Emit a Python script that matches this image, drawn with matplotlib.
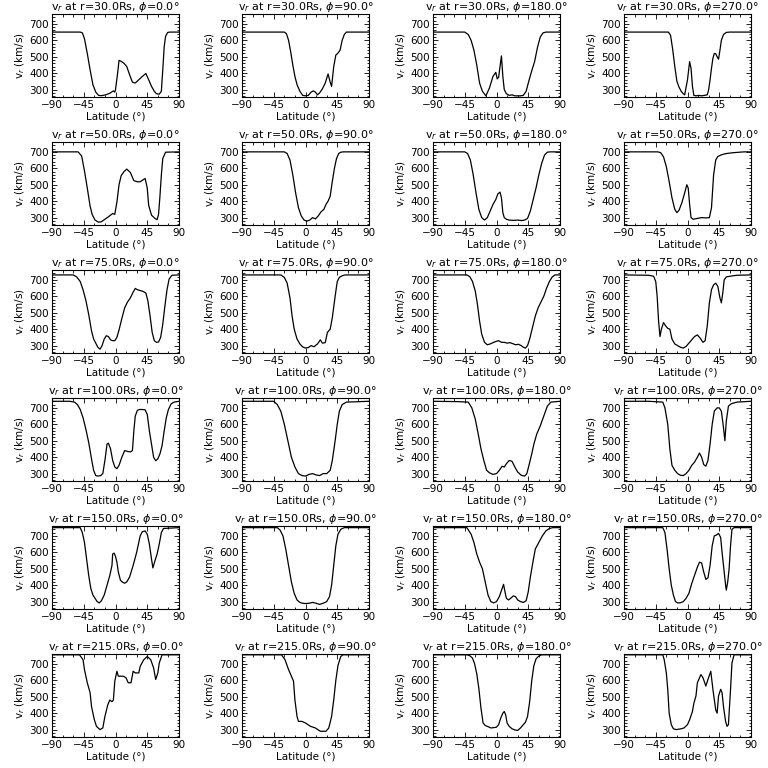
import matplotlib.pyplot as plt
from matplotlib.ticker import MultipleLocator

radii = [30.0, 50.0, 75.0, 100.0, 150.0, 215.0]
phis = [0.0, 90.0, 180.0, 270.0]

# r = 30 Rs
lat_30_0 = [-90, -50, -47, -44, -40, -36, -32, -28, -24, -20, -14, -8, -3, -1, 0, 3, 5, 8, 12, 16,
            20, 24, 28, 33, 38, 43, 47, 51, 55, 58, 62, 65, 67, 69, 71, 74, 77, 90]
v_30_0 = [650, 650, 645, 610, 520, 420, 330, 285, 265, 263, 268, 278, 292, 285, 300, 400, 478, 472, 460, 440,
          390, 345, 340, 360, 380, 398, 360, 320, 290, 275, 272, 290, 420, 560, 625, 648, 650, 650]
lat_30_90 = [-90, -30, -27, -24, -21, -18, -15, -12, -8, -4, 0, 4, 8, 11, 14, 17, 20, 24, 28, 32,
             35, 37, 40, 43, 46, 49, 52, 55, 58, 90]
v_30_90 = [650, 650, 640, 600, 530, 450, 380, 330, 290, 265, 262, 265, 285, 292, 285, 268, 280, 305, 340, 395,
           345, 320, 440, 510, 522, 540, 600, 635, 650, 650]
lat_30_180 = [-90, -45, -40, -36, -32, -28, -24, -20, -15, -10, -5, -1, 1, 3, 5, 7, 9, 11, 14, 18,
              22, 26, 30, 34, 38, 42, 46, 50, 54, 58, 62, 66, 70, 90]
v_30_180 = [650, 650, 635, 600, 540, 450, 340, 290, 262, 310, 380, 405, 365, 375, 440, 505, 380, 300, 275, 265,
            268, 262, 262, 262, 265, 290, 355, 415, 470, 555, 620, 645, 650, 650]
lat_30_270 = [-90, -27, -24, -21, -18, -15, -12, -9, -6, -4, 0, 3, 5, 7, 9, 12, 16, 20, 24, 28,
              30, 32, 34, 36, 38, 40, 42, 44, 46, 48, 51, 55, 60, 90]
v_30_270 = [650, 650, 630, 545, 440, 350, 315, 290, 275, 268, 360, 470, 430, 320, 265, 262, 265, 262, 265, 268,
            300, 360, 430, 490, 520, 518, 500, 485, 540, 600, 635, 648, 650, 650]

# r = 50 Rs
lat_50_0 = [-90, -53, -48, -44, -40, -36, -33, -29, -24, -20, -15, -10, -4, -1, 2, 5, 8, 12, 16, 21,
            26, 31, 35, 39, 42, 45, 47, 51, 56, 59, 61, 63, 65, 67, 71, 90]
v_50_0 = [700, 700, 675, 585, 480, 370, 318, 285, 272, 275, 290, 305, 325, 320, 395, 500, 555, 580, 595, 575,
          525, 518, 518, 530, 538, 480, 375, 315, 295, 287, 320, 430, 560, 660, 698, 700]
lat_50_90 = [-90, -30, -26, -22, -18, -14, -10, -6, -2, 2, 6, 10, 14, 18, 22, 26, 29, 32, 35, 38,
             41, 44, 47, 50, 54, 90]
v_50_90 = [700, 700, 690, 650, 560, 450, 360, 310, 285, 278, 285, 300, 292, 310, 335, 350, 380, 400, 430, 520,
           600, 660, 690, 698, 700, 700]
lat_50_180 = [-90, -45, -41, -37, -33, -29, -25, -21, -17, -13, -9, -5, -1, 2, 5, 7, 9, 11, 14, 18,
              24, 30, 36, 40, 44, 48, 52, 56, 60, 64, 68, 72, 76, 90]
v_50_180 = [700, 700, 690, 650, 560, 450, 350, 300, 285, 300, 340, 380, 410, 445, 455, 420, 330, 300, 290, 285,
            283, 285, 282, 285, 295, 340, 410, 480, 560, 630, 680, 698, 700, 700]
lat_50_270 = [-90, -42, -38, -34, -30, -26, -22, -18, -15, -12, -8, -4, -1, 1, 3, 5, 8, 14, 20, 26,
              31, 34, 37, 40, 43, 48, 55, 65, 80, 90]
v_50_270 = [700, 700, 695, 670, 610, 520, 420, 350, 330, 345, 390, 450, 500, 480, 380, 300, 290, 295, 300, 298,
            300, 360, 560, 650, 672, 682, 690, 695, 700, 700]

# r = 75 Rs
lat_75_0 = [-90, -60, -55, -50, -46, -42, -38, -34, -31, -28, -25, -22, -19, -16, -13, -10, -7, -4, -1, 2,
            5, 9, 13, 17, 21, 25, 28, 31, 35, 39, 43, 46, 49, 52, 55, 58, 61, 64, 67, 70,
            73, 76, 80, 90]
v_75_0 = [730, 730, 718, 690, 640, 575, 490, 390, 340, 315, 290, 278, 300, 340, 360, 355, 335, 330, 330, 350,
          395, 465, 530, 565, 590, 625, 648, 640, 635, 630, 620, 570, 480, 380, 330, 320, 322, 350, 430, 540,
          640, 705, 728, 730]
lat_75_90 = [-90, -35, -30, -26, -22, -19, -16, -12, -8, -4, 0, 4, 8, 12, 17, 21, 24, 28, 31, 35,
             38, 42, 45, 48, 52, 56, 90]
v_75_90 = [730, 730, 715, 680, 590, 480, 400, 340, 310, 292, 285, 288, 300, 293, 310, 335, 315, 318, 380, 400,
           470, 600, 690, 715, 725, 730, 730]
lat_75_180 = [-90, -42, -38, -34, -30, -27, -24, -21, -17, -13, -9, -5, -1, 3, 7, 11, 15, 19, 23, 27,
              31, 35, 38, 41, 44, 47, 51, 55, 59, 63, 67, 71, 75, 79, 83, 90]
v_75_180 = [730, 730, 720, 690, 630, 550, 450, 370, 320, 305, 310, 318, 325, 330, 320, 320, 315, 318, 312, 305,
            308, 300, 290, 285, 300, 340, 410, 480, 530, 565, 600, 650, 690, 718, 730, 730]
lat_75_270 = [-90, -55, -48, -45, -43, -41, -39, -37, -34, -31, -28, -25, -22, -18, -14, -10, -6, -2, 2, 6,
              10, 14, 18, 22, 25, 28, 31, 34, 37, 40, 43, 46, 48, 50, 52, 55, 60, 70, 90]
v_75_270 = [730, 728, 722, 690, 600, 450, 355, 400, 440, 420, 405, 400, 340, 310, 300, 290, 285, 295, 315, 335,
            355, 365, 345, 320, 330, 420, 560, 640, 670, 680, 660, 590, 560, 620, 700, 718, 722, 728, 730]

# r = 100 Rs
lat_100_0 = [-90, -65, -58, -54, -50, -46, -42, -38, -34, -31, -28, -25, -21, -18, -15, -12, -10, -7, -4, -1,
             2, 5, 9, 13, 17, 21, 24, 26, 28, 31, 34, 38, 42, 45, 48, 51, 54, 57, 60, 63,
             66, 69, 72, 75, 79, 83, 90]
v_100_0 = [740, 740, 735, 720, 690, 640, 570, 490, 390, 320, 288, 285, 288, 300, 380, 480, 485, 450, 380, 340,
           330, 350, 400, 440, 435, 432, 440, 560, 650, 685, 690, 690, 688, 660, 560, 480, 400, 378, 390, 420,
           470, 560, 640, 690, 725, 735, 740]
lat_100_90 = [-90, -45, -40, -35, -30, -25, -20, -15, -10, -5, 0, 5, 10, 15, 20, 25, 30, 35, 38, 42,
              45, 48, 52, 58, 90]
v_100_90 = [740, 740, 720, 680, 600, 500, 400, 340, 300, 288, 285, 295, 300, 292, 288, 300, 300, 320, 380, 500,
            600, 680, 720, 735, 740]
lat_100_180 = [-90, -55, -40, -35, -30, -25, -22, -18, -14, -10, -5, 0, 4, 8, 11, 14, 18, 22, 26, 30,
               35, 40, 43, 46, 50, 53, 57, 62, 67, 72, 77, 90]
v_100_180 = [740, 738, 735, 700, 630, 520, 450, 380, 320, 305, 295, 300, 320, 345, 340, 360, 380, 375, 340, 310,
             290, 285, 300, 350, 420, 480, 540, 590, 650, 710, 735, 740]
lat_100_270 = [-90, -55, -35, -32, -28, -25, -22, -18, -14, -10, -6, -2, 2, 6, 10, 14, 17, 20, 23, 26,
               29, 32, 35, 38, 42, 45, 48, 51, 53, 55, 58, 62, 70, 90]
v_100_270 = [740, 740, 735, 700, 600, 450, 350, 320, 300, 290, 288, 300, 320, 350, 370, 400, 425, 400, 355, 345,
             380, 480, 600, 680, 700, 700, 680, 580, 500, 620, 710, 725, 735, 740]

# r = 150 Rs
lat_150_0 = [-90, -50, -47, -44, -41, -38, -35, -32, -29, -26, -23, -20, -16, -12, -8, -5, -4, -2, 0, 2,
             4, 7, 10, 13, 16, 20, 25, 30, 35, 38, 42, 45, 48, 51, 53, 56, 59, 62, 65, 68, 90]
v_150_0 = [750, 750, 720, 660, 560, 460, 380, 340, 320, 300, 292, 305, 340, 400, 460, 520, 590, 595, 575, 540,
           480, 430, 418, 412, 420, 450, 520, 600, 700, 725, 730, 710, 650, 560, 505, 550, 590, 650, 720, 745, 750]
lat_150_90 = [-90, -40, -36, -32, -28, -24, -20, -16, -12, -8, -4, 0, 5, 10, 15, 20, 25, 30, 34, 37,
              40, 43, 46, 50, 55, 90]
v_150_90 = [750, 750, 735, 700, 620, 520, 420, 350, 310, 295, 290, 288, 290, 295, 290, 283, 290, 300, 330, 400,
            520, 640, 710, 740, 750, 750]
lat_150_180 = [-90, -42, -36, -32, -28, -24, -20, -16, -12, -8, -4, 0, 4, 8, 10, 12, 14, 17, 20, 24,
               27, 30, 34, 38, 42, 45, 48, 52, 55, 60, 65, 70, 75, 80, 90]
v_150_180 = [750, 750, 710, 660, 590, 540, 500, 420, 340, 300, 292, 300, 330, 380, 405, 360, 320, 310, 320, 335,
             330, 310, 300, 295, 305, 360, 450, 550, 620, 660, 700, 730, 745, 750, 750]
lat_150_270 = [-90, -35, -32, -29, -26, -23, -20, -17, -14, -10, -6, -2, 2, 6, 10, 14, 17, 20, 23, 26,
               29, 32, 35, 38, 41, 44, 47, 49, 52, 54, 55, 57, 59, 61, 63, 66, 90]
v_150_270 = [750, 750, 720, 620, 500, 400, 340, 300, 292, 293, 300, 320, 350, 410, 460, 510, 540, 535, 480, 435,
             445, 520, 640, 700, 705, 715, 690, 600, 480, 400, 370, 420, 500, 640, 740, 750, 750]

# r = 215 Rs
lat_215_0 = [-90, -51, -46, -44, -40, -36, -34, -30, -27, -22, -18, -15, -11, -8, -5, -3, -1, 2, 4, 7,
             11, 15, 18, 22, 25, 28, 33, 35, 40, 45, 50, 54, 57, 60, 62, 66, 90]
v_215_0 = [755, 755, 725, 665, 585, 525, 440, 360, 320, 300, 310, 380, 450, 480, 470, 480, 595, 655, 625, 625,
           625, 615, 585, 585, 655, 645, 645, 685, 725, 745, 725, 675, 605, 645, 705, 755, 755]
lat_215_90 = [-90, -34, -29, -24, -20, -17, -15, -12, -10, -5, 0, 7, 14, 21, 29, 33, 37, 40, 43, 46,
              50, 53, 90]
v_215_90 = [755, 755, 725, 665, 625, 595, 480, 380, 350, 350, 340, 320, 310, 290, 290, 310, 380, 480, 600, 690,
            745, 755, 755]
lat_215_180 = [-90, -42, -38, -34, -31, -28, -25, -22, -19, -16, -12, -8, -4, 0, 3, 6, 9, 11, 13, 15,
               18, 22, 26, 30, 34, 38, 41, 44, 47, 50, 53, 56, 60, 64, 68, 90]
v_215_180 = [755, 755, 750, 735, 700, 640, 550, 430, 340, 325, 318, 310, 312, 315, 330, 370, 400, 410, 390, 340,
             320, 305, 298, 295, 310, 330, 345, 380, 470, 600, 690, 730, 748, 755, 755, 755]
lat_215_270 = [-90, -35, -33, -30, -28, -26, -23, -20, -16, -9, -5, 0, 3, 7, 9, 12, 14, 19, 22, 26,
               29, 33, 36, 40, 42, 44, 47, 49, 51, 54, 56, 58, 61, 63, 66, 90]
v_215_270 = [755, 755, 725, 645, 545, 400, 330, 305, 300, 305, 310, 330, 360, 410, 460, 505, 585, 635, 615, 565,
             605, 655, 545, 420, 400, 505, 545, 525, 440, 350, 320, 330, 545, 705, 755, 755]

panels = [
    [(lat_30_0, v_30_0), (lat_30_90, v_30_90), (lat_30_180, v_30_180), (lat_30_270, v_30_270)],
    [(lat_50_0, v_50_0), (lat_50_90, v_50_90), (lat_50_180, v_50_180), (lat_50_270, v_50_270)],
    [(lat_75_0, v_75_0), (lat_75_90, v_75_90), (lat_75_180, v_75_180), (lat_75_270, v_75_270)],
    [(lat_100_0, v_100_0), (lat_100_90, v_100_90), (lat_100_180, v_100_180), (lat_100_270, v_100_270)],
    [(lat_150_0, v_150_0), (lat_150_90, v_150_90), (lat_150_180, v_150_180), (lat_150_270, v_150_270)],
    [(lat_215_0, v_215_0), (lat_215_90, v_215_90), (lat_215_180, v_215_180), (lat_215_270, v_215_270)],
]

W = H = 768.0
col_left = [52, 242, 433, 624]
box_w, box_h = 127, 83

fig = plt.figure(figsize=(7.68, 7.68), dpi=100)

for i, r in enumerate(radii):
    for j, phi in enumerate(phis):
        top = 14 + 128 * i
        ax = fig.add_axes([col_left[j] / W, 1 - (top + box_h) / H, box_w / W, box_h / H])
        lat, v = panels[i][j]
        ax.plot(lat, v, color='black', lw=0.9)
        ax.set_xlim(-90, 90)
        ax.set_ylim(255, 760)
        ax.set_xticks([-90, -45, 0, 45, 90])
        ax.set_yticks([300, 400, 500, 600, 700])
        ax.xaxis.set_minor_locator(MultipleLocator(15))
        ax.yaxis.set_minor_locator(MultipleLocator(20))
        ax.tick_params(which='both', direction='in', top=True, right=True,
                       labelsize=7.5, width=0.6, pad=2)
        ax.tick_params(which='major', length=3.5)
        ax.tick_params(which='minor', length=1.8)
        for s in ax.spines.values():
            s.set_linewidth(0.8)
        ax.set_title(r'v$_r$ at r=%.1fRs, $\phi$=%.1f°' % (r, phi), fontsize=8, pad=2)
        ax.set_xlabel('Latitude (°)', fontsize=7.5, labelpad=1)
        ax.set_ylabel(r'v$_r$ (km/s)', fontsize=7.5, labelpad=2)

fig.savefig('out.png', dpi=100)
